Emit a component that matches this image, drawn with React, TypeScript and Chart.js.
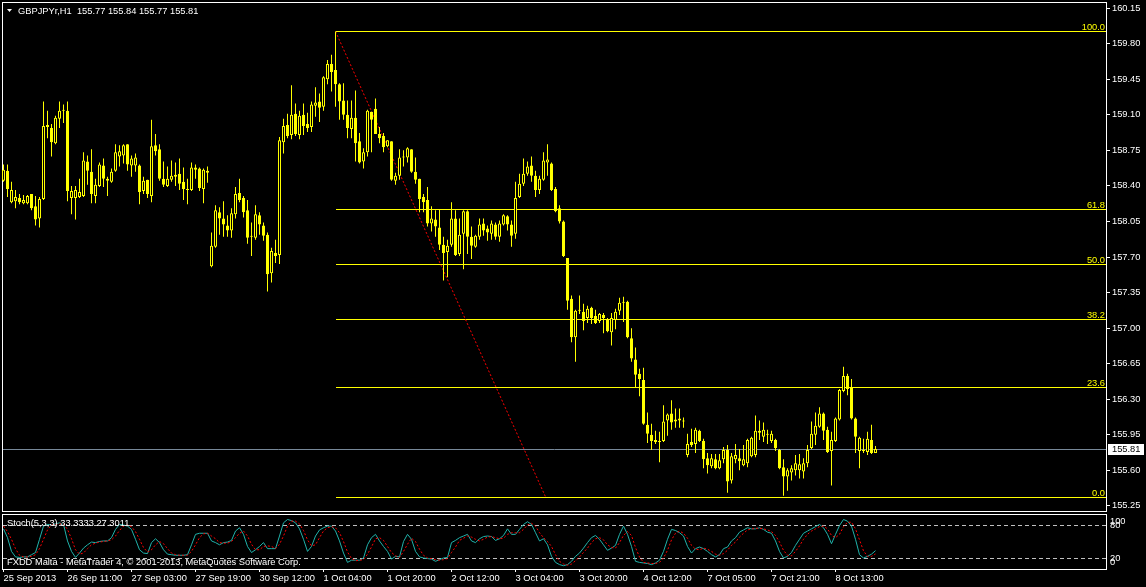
import React, { useEffect, useRef } from 'react';
import { Chart, registerables } from 'chart.js';

Chart.register(...registerables);

// ---------------- DATA ----------------
const SYMBOL = 'GBPJPYr,H1';

const OPEN = [
  158.45, 158.55, 158.24, 158.25, 158.28, 158.23, 158.23, 158.32, 158.20, 158.08,
  158.27, 158.98, 158.97, 158.82, 159.06, 159.14, 159.14, 158.28, 158.28, 158.29,
  158.30, 158.64, 158.54, 158.30, 158.40, 158.60, 158.47, 158.44, 158.55, 158.69,
  158.70, 158.81, 158.60, 158.60, 158.60, 158.35, 158.46, 158.30, 158.80, 158.76,
  158.47, 158.40, 158.46, 158.49, 158.52, 158.44, 158.37, 158.36, 158.58, 158.57,
  158.37, 158.55, 157.61, 157.80, 158.14, 158.08, 158.01, 157.96, 158.12, 158.33,
  158.28, 158.16, 157.91, 157.89, 158.11, 158.01, 157.92, 157.54, 157.74, 157.72,
  158.83, 159.00, 158.90, 159.11, 158.90, 159.10, 159.01, 158.98, 159.19, 159.23,
  159.18, 159.45, 159.60, 159.54, 159.40, 159.24, 159.10, 158.96, 159.07, 158.84,
  158.64, 158.73, 159.13, 159.16, 158.91, 158.89, 158.79, 158.84, 158.45, 158.50,
  158.68, 158.68, 158.76, 158.54, 158.47, 158.29, 158.26, 158.03, 158.07, 157.99,
  157.82, 157.75, 157.82, 158.08, 157.73, 157.93, 158.15, 157.90, 157.80, 157.90,
  158.03, 157.98, 157.93, 158.02, 157.90, 158.02, 158.10, 158.02, 157.93, 158.29,
  158.42, 158.52, 158.60, 158.50, 158.36, 158.46, 158.63, 158.62, 158.37, 158.18,
  158.05, 157.69, 157.29, 156.91, 157.18, 157.16, 157.10, 157.20, 157.12, 157.07,
  157.13, 157.09, 156.96, 157.08, 157.17, 157.25, 157.26, 156.90, 156.69, 156.55,
  156.49, 156.05, 155.95, 155.90, 155.89, 155.89, 156.09, 156.16, 156.08, 156.11,
  156.09, 155.75, 155.88, 155.86, 155.99, 155.89, 155.72, 155.64, 155.71, 155.62,
  155.71, 155.80, 155.50, 155.71, 155.72, 155.65, 155.67, 155.74, 155.75, 155.99,
  155.93, 155.95, 155.89, 155.90, 155.80, 155.63, 155.54, 155.58, 155.60, 155.60,
  155.59, 155.67, 155.82, 155.95, 156.03, 156.16, 156.00, 155.79, 155.89, 156.10,
  156.38, 156.53, 156.41, 156.11, 155.79, 155.79, 155.78, 155.90, 155.77,
];
const HIGH = [
  158.61, 158.61, 158.44, 158.36, 158.32, 158.31, 158.31, 158.32, 158.30, 158.29,
  159.23, 159.14, 159.01, 159.09, 159.23, 159.20, 159.23, 158.40, 158.40, 158.47,
  158.73, 158.70, 158.76, 158.47, 158.63, 158.67, 158.49, 158.57, 158.81, 158.80,
  158.81, 158.81, 158.70, 158.72, 158.61, 158.49, 158.46, 159.05, 158.91, 158.81,
  158.64, 158.59, 158.65, 158.63, 158.67, 158.58, 158.47, 158.63, 158.61, 158.58,
  158.57, 158.59, 157.94, 158.21, 158.19, 158.25, 158.11, 158.18, 158.39, 158.47,
  158.30, 158.26, 158.04, 158.21, 158.14, 158.04, 157.94, 157.79, 157.87, 158.88,
  159.06, 159.11, 159.39, 159.21, 159.14, 159.21, 159.12, 159.23, 159.37, 159.31,
  159.48, 159.64, 159.69, 159.92, 159.41, 159.41, 159.24, 159.24, 159.34, 158.92,
  158.77, 159.15, 159.13, 159.26, 158.98, 158.92, 158.85, 158.84, 158.53, 158.76,
  158.75, 158.78, 158.76, 158.68, 158.47, 158.32, 158.39, 158.20, 158.16, 158.17,
  157.90, 157.87, 158.24, 158.16, 158.08, 158.16, 158.16, 158.00, 157.92, 158.08,
  158.08, 158.01, 158.06, 158.04, 158.06, 158.12, 158.11, 158.06, 158.44, 158.52,
  158.67, 158.64, 158.69, 158.55, 158.50, 158.73, 158.81, 158.63, 158.39, 158.21,
  158.06, 157.69, 157.32, 157.18, 157.32, 157.24, 157.22, 157.21, 157.18, 157.15,
  157.15, 157.10, 157.15, 157.19, 157.30, 157.31, 157.27, 157.00, 156.81, 156.60,
  156.61, 156.17, 156.06, 155.99, 155.98, 156.24, 156.16, 156.29, 156.21, 156.21,
  156.12, 155.96, 156.01, 156.02, 156.00, 155.91, 155.77, 155.76, 155.76, 155.76,
  155.83, 155.85, 155.77, 155.86, 155.81, 155.85, 155.91, 155.93, 156.14, 156.09,
  156.07, 156.00, 155.99, 155.91, 155.81, 155.71, 155.62, 155.65, 155.75, 155.76,
  155.72, 155.85, 156.08, 156.17, 156.22, 156.17, 156.03, 155.98, 156.12, 156.40,
  156.62, 156.55, 156.50, 156.12, 155.93, 155.91, 155.98, 156.05, 155.84,
];
const LOW = [
  158.44, 158.29, 158.23, 158.18, 158.22, 158.22, 158.22, 158.16, 158.01, 157.99,
  158.26, 158.87, 158.69, 158.81, 158.97, 159.02, 158.25, 158.12, 158.07, 158.28,
  158.29, 158.41, 158.23, 158.23, 158.39, 158.39, 158.30, 158.43, 158.54, 158.59,
  158.62, 158.55, 158.49, 158.54, 158.22, 158.32, 158.28, 158.24, 158.70, 158.45,
  158.39, 158.39, 158.44, 158.40, 158.36, 158.26, 158.22, 158.35, 158.47, 158.35,
  158.23, 158.43, 157.60, 157.79, 157.92, 157.90, 157.90, 157.89, 158.08, 158.24,
  158.09, 157.83, 157.71, 157.87, 157.92, 157.86, 157.36, 157.45, 157.64, 157.63,
  158.72, 158.87, 158.86, 158.89, 158.86, 158.90, 158.93, 158.93, 159.08, 159.03,
  159.14, 159.40, 159.33, 159.18, 159.05, 159.05, 158.87, 158.87, 158.64, 158.62,
  158.57, 158.69, 158.73, 158.91, 158.82, 158.73, 158.78, 158.45, 158.41, 158.46,
  158.59, 158.63, 158.53, 158.42, 158.14, 158.14, 158.00, 157.95, 157.90, 157.77,
  157.47, 157.50, 157.80, 157.71, 157.71, 157.58, 157.73, 157.68, 157.79, 157.87,
  157.91, 157.86, 157.87, 157.87, 157.85, 158.01, 157.96, 157.80, 157.88, 158.28,
  158.40, 158.50, 158.44, 158.29, 158.32, 158.45, 158.50, 158.35, 158.14, 158.03,
  157.70, 157.18, 156.86, 156.67, 157.14, 156.98, 157.05, 157.04, 157.04, 157.05,
  156.95, 156.96, 156.83, 156.99, 157.13, 157.06, 156.90, 156.67, 156.41, 156.33,
  156.05, 155.87, 155.80, 155.86, 155.68, 155.88, 155.94, 156.00, 156.02, 156.02,
  156.02, 155.73, 155.83, 155.77, 155.88, 155.62, 155.57, 155.62, 155.61, 155.61,
  155.67, 155.38, 155.47, 155.67, 155.60, 155.64, 155.63, 155.73, 155.73, 155.90,
  155.88, 155.86, 155.87, 155.79, 155.61, 155.35, 155.40, 155.50, 155.55, 155.52,
  155.52, 155.63, 155.81, 155.85, 156.02, 155.90, 155.77, 155.45, 155.88, 156.09,
  156.37, 156.34, 156.10, 155.77, 155.62, 155.77, 155.75, 155.76, 155.77,
];
const CLOSE = [
  158.56, 158.37, 158.36, 158.29, 158.24, 158.26, 158.30, 158.18, 158.07, 158.27,
  158.99, 159.00, 158.83, 159.07, 159.14, 159.15, 158.35, 158.35, 158.36, 158.34,
  158.65, 158.55, 158.32, 158.41, 158.61, 158.47, 158.45, 158.54, 158.73, 158.74,
  158.80, 158.61, 158.67, 158.68, 158.34, 158.45, 158.32, 158.79, 158.74, 158.47,
  158.41, 158.47, 158.50, 158.51, 158.42, 158.37, 158.36, 158.58, 158.56, 158.38,
  158.56, 158.53, 157.81, 158.16, 158.08, 158.02, 157.96, 158.13, 158.32, 158.26,
  158.14, 157.89, 157.90, 158.12, 158.02, 157.91, 157.53, 157.76, 157.71, 158.85,
  158.99, 158.89, 159.10, 158.91, 159.09, 158.99, 158.97, 159.20, 159.22, 159.17,
  159.47, 159.60, 159.52, 159.40, 159.23, 159.10, 158.97, 159.07, 158.82, 158.63,
  158.73, 159.14, 159.05, 158.91, 158.87, 158.78, 158.85, 158.46, 158.50, 158.68,
  158.69, 158.77, 158.54, 158.46, 158.27, 158.24, 158.03, 158.08, 158.00, 157.82,
  157.74, 157.81, 158.08, 157.72, 157.92, 158.15, 157.90, 157.81, 157.91, 158.02,
  157.96, 157.94, 158.03, 157.90, 158.03, 158.11, 158.02, 157.91, 158.28, 158.42,
  158.52, 158.59, 158.50, 158.36, 158.47, 158.65, 158.66, 158.36, 158.15, 158.05,
  157.71, 157.27, 156.91, 157.17, 157.17, 157.07, 157.19, 157.10, 157.05, 157.14,
  157.10, 156.97, 157.10, 157.16, 157.25, 157.26, 156.91, 156.70, 156.54, 156.50,
  156.06, 155.96, 155.89, 155.88, 155.88, 156.08, 156.15, 156.07, 156.10, 156.09,
  156.08, 155.86, 155.85, 156.00, 155.89, 155.71, 155.65, 155.72, 155.62, 155.70,
  155.80, 155.49, 155.74, 155.75, 155.69, 155.71, 155.90, 155.92, 155.99, 155.97,
  156.00, 155.96, 155.96, 155.82, 155.62, 155.54, 155.60, 155.62, 155.67, 155.66,
  155.67, 155.80, 155.96, 156.04, 156.16, 155.99, 155.78, 155.90, 156.11, 156.39,
  156.53, 156.40, 156.11, 155.93, 155.92, 155.80, 155.91, 155.77, 155.81,
];

const STOCH_K = [
  73, 57, 32, 22, 21, 22, 22, 26, 30, 54,
  78, 81, 80, 82, 84, 81, 51, 32, 21, 29,
  38, 44, 49, 48, 50, 51, 51, 57, 72, 81,
  80, 78, 72, 54, 35, 29, 28, 48, 55, 48,
  35, 27, 26, 25, 25, 25, 26, 44, 63, 65,
  65, 65, 51, 48, 44, 48, 49, 52, 69, 75,
  63, 41, 30, 35, 41, 48, 37, 37, 37, 60,
  84, 90, 88, 84, 73, 54, 32, 41, 60, 71,
  75, 78, 78, 69, 51, 29, 12, 16, 16, 16,
  20, 44, 57, 63, 51, 41, 32, 18, 23, 22,
  50, 63, 54, 32, 22, 20, 19, 18, 14, 17,
  20, 21, 48, 52, 57, 60, 63, 51, 48, 55,
  59, 60, 59, 52, 55, 61, 73, 63, 63, 72,
  81, 86, 81, 66, 51, 55, 44, 23, 12, 8,
  6, 8, 14, 23, 29, 38, 48, 57, 61, 54,
  44, 34, 38, 43, 63, 78, 63, 41, 14, 12,
  11, 10, 8, 11, 16, 32, 54, 72, 70, 66,
  60, 41, 29, 37, 40, 37, 32, 26, 22, 26,
  37, 40, 51, 57, 67, 71, 75, 73, 73, 75,
  72, 67, 65, 51, 32, 20, 23, 30, 43, 54,
  65, 69, 73, 77, 81, 75, 63, 46, 63, 79,
  90, 87, 78, 54, 26, 20, 23, 27, 33.3333,
];
const STOCH_D = [
  78, 68, 54, 37, 25, 22, 22, 23, 26, 37,
  54, 71, 80, 81, 82, 82, 72, 55, 35, 27,
  29, 37, 44, 47, 49, 50, 51, 53, 60, 70,
  78, 80, 77, 68, 54, 39, 31, 35, 44, 50,
  46, 37, 29, 26, 25, 25, 25, 32, 44, 57,
  64, 65, 60, 55, 48, 47, 47, 50, 57, 65,
  69, 60, 45, 35, 35, 41, 42, 41, 37, 45,
  60, 78, 87, 87, 82, 70, 53, 42, 44, 57,
  69, 75, 77, 75, 66, 50, 31, 19, 15, 16,
  17, 27, 40, 55, 57, 52, 41, 30, 24, 21,
  32, 45, 56, 50, 36, 25, 20, 19, 17, 16,
  17, 19, 30, 40, 52, 56, 60, 58, 54, 51,
  54, 58, 59, 57, 55, 56, 63, 66, 66, 66,
  72, 80, 83, 78, 66, 57, 50, 41, 26, 14,
  9, 7, 9, 15, 22, 30, 38, 48, 55, 57,
  53, 44, 39, 38, 48, 61, 68, 61, 39, 22,
  12, 11, 10, 10, 12, 20, 34, 53, 65, 69,
  65, 56, 43, 36, 35, 38, 36, 32, 27, 25,
  28, 34, 43, 49, 58, 65, 71, 73, 74, 74,
  73, 71, 68, 61, 49, 34, 25, 24, 32, 42,
  54, 63, 69, 73, 77, 78, 73, 61, 57, 63,
  77, 85, 85, 73, 53, 33, 23, 23, 27.3011,
];

const PRICE_TICKS = [
  155.25, 155.6, 155.95, 156.3, 156.65, 157.0, 157.35, 157.7,
  158.05, 158.4, 158.75, 159.1, 159.45, 159.8, 160.15,
];
const TIME_IDX = [0, 16, 32, 48, 64, 80, 96, 112, 128, 144, 160, 176, 192, 208];
const TIME_TXT = [
  '25 Sep 2013', '26 Sep 11:00', '27 Sep 03:00', '27 Sep 19:00', '30 Sep 12:00',
  '1 Oct 04:00', '1 Oct 20:00', '2 Oct 12:00', '3 Oct 04:00', '3 Oct 20:00',
  '4 Oct 12:00', '7 Oct 05:00', '7 Oct 21:00', '8 Oct 13:00',
];

const FIB_LEVELS = [0, 23.6, 38.2, 50, 61.8, 100];
const FIB_HIGH = 159.92;
const FIB_LOW = 155.34;
const FIB_START = 83;
const TREND_FROM = [83, 159.92];
const TREND_TO = [135.5, 155.34];
const STOCH_LEVELS = [20, 80];
const STOCH_AXIS = [100, 80, 20, 0];

// ---------------- STYLE ----------------
const FONT = 'Liberation Sans';
const FONT_SIZE = 9.3;
const CANDLE = '#ffff00';
const X_MIN = -0.375;
const X_MAX = 275.625;
const Y_MIN = 155.2;
const Y_MAX = 160.21;

function noPad(s: any) {
  s.paddingTop = 0;
  s.paddingBottom = 0;
  s.paddingLeft = 0;
  s.paddingRight = 0;
}

export default function App() {
  const mainRef = useRef<HTMLCanvasElement>(null);
  const stochRef = useRef<HTMLCanvasElement>(null);

  useEffect(() => {
    document.body.style.margin = '0';
    document.body.style.background = '#000';
    const n = CLOSE.length;
    const idx = Array.from({ length: n }, (_, i) => i);
    const last = n - 1;

    const wickData = idx.map((i) => ({ x: i, y: [LOW[i], HIGH[i]] }));
    const bodyData = idx.map((i) => ({ x: i, y: [OPEN[i], CLOSE[i]] }));
    const bodyFill = idx.map((i) => (CLOSE[i] >= OPEN[i] ? '#000000' : CANDLE));

    const mainDecor = {
      id: 'mainDecor',
      beforeDraw(chart: any) {
        const { ctx, width, height } = chart;
        ctx.save();
        ctx.fillStyle = '#000';
        ctx.fillRect(0, 0, width, height);
        ctx.restore();
      },
      beforeDatasetsDraw(chart: any) {
        const { ctx, chartArea: a, scales } = chart;
        const x = scales.x;
        const y = scales.y;
        ctx.save();
        ctx.lineWidth = 1;
        // frame
        ctx.strokeStyle = '#ffffff';
        ctx.strokeRect(a.left + 0.5, a.top + 0.5, a.right - a.left, a.bottom - a.top);
        // fibonacci levels
        const fx = Math.round(x.getPixelForValue(FIB_START));
        FIB_LEVELS.forEach((l) => {
          const p = FIB_LOW + ((FIB_HIGH - FIB_LOW) * l) / 100;
          const py = Math.round(y.getPixelForValue(p)) + 0.5;
          ctx.strokeStyle = CANDLE;
          ctx.beginPath();
          ctx.moveTo(fx, py);
          ctx.lineTo(a.right, py);
          ctx.stroke();
        });
        // trend line
        ctx.strokeStyle = '#ff0000';
        ctx.setLineDash([2, 2]);
        ctx.beginPath();
        ctx.moveTo(x.getPixelForValue(TREND_FROM[0]), y.getPixelForValue(TREND_FROM[1]));
        ctx.lineTo(x.getPixelForValue(TREND_TO[0]), y.getPixelForValue(TREND_TO[1]));
        ctx.stroke();
        ctx.setLineDash([]);
        // bid line
        const by = Math.round(y.getPixelForValue(CLOSE[last])) + 0.5;
        ctx.strokeStyle = '#778899';
        ctx.beginPath();
        ctx.moveTo(a.left + 1, by);
        ctx.lineTo(a.right, by);
        ctx.stroke();
        ctx.restore();
      },
      afterDraw(chart: any) {
        const { ctx, chartArea: a, scales } = chart;
        const y = scales.y;
        ctx.save();
        ctx.font = `${FONT_SIZE}px "${FONT}"`;
        // fib labels
        ctx.fillStyle = CANDLE;
        ctx.textAlign = 'right';
        ctx.textBaseline = 'alphabetic';
        FIB_LEVELS.forEach((l) => {
          const p = FIB_LOW + ((FIB_HIGH - FIB_LOW) * l) / 100;
          const py = Math.round(y.getPixelForValue(p));
          ctx.fillText(l.toFixed(1), a.right - 1, py - 1);
        });
        // header
        ctx.fillStyle = '#ffffff';
        ctx.beginPath();
        ctx.moveTo(7, 9);
        ctx.lineTo(12, 9);
        ctx.lineTo(9.5, 12);
        ctx.closePath();
        ctx.fill();
        ctx.textAlign = 'left';
        ctx.textBaseline = 'middle';
        const hdr = `${SYMBOL}  ${OPEN[last].toFixed(2)} ${HIGH[last].toFixed(2)} ${LOW[last].toFixed(2)} ${CLOSE[last].toFixed(2)}`;
        ctx.fillText(hdr, 18, 11);
        // price box
        const by = Math.round(y.getPixelForValue(CLOSE[last]));
        ctx.fillStyle = '#ffffff';
        ctx.fillRect(a.right + 2, by - 5, 36, 11);
        ctx.fillStyle = '#000000';
        ctx.fillText(CLOSE[last].toFixed(2), a.right + 6, by + 0.5);
        ctx.restore();
      },
    };

    const mainChart = new Chart(mainRef.current as HTMLCanvasElement, {
      type: 'bar',
      data: {
        datasets: [
          {
            label: 'wick',
            data: wickData as any,
            backgroundColor: CANDLE,
            borderWidth: 0,
            barThickness: 1,
            grouped: false,
            inflateAmount: 0,
            order: 2,
          } as any,
          {
            label: 'body',
            data: bodyData as any,
            backgroundColor: bodyFill,
            borderColor: CANDLE,
            borderWidth: 1,
            borderSkipped: false,
            barThickness: 3,
            minBarLength: 1,
            grouped: false,
            inflateAmount: 0,
            order: 1,
          } as any,
        ],
      },
      options: {
        responsive: false,
        animation: false,
        devicePixelRatio: 1,
        events: [],
        layout: { padding: { left: 2, top: 2, right: 0, bottom: 2 } },
        plugins: { legend: { display: false }, tooltip: { enabled: false } },
        scales: {
          x: { type: 'linear', display: false, min: X_MIN, max: X_MAX, offset: false },
          y: {
            position: 'right',
            min: Y_MIN,
            max: Y_MAX,
            afterFit: (s: any) => {
              s.width = 40;
              noPad(s);
            },
            afterBuildTicks: (s: any) => {
              s.ticks = PRICE_TICKS.map((v) => ({ value: v }));
            },
            border: { display: false },
            grid: { drawOnChartArea: false, drawTicks: true, tickLength: 4, color: '#ffffff' },
            ticks: {
              color: '#ffffff',
              padding: 2,
              font: { family: FONT, size: FONT_SIZE },
              callback: (v: any) => Number(v).toFixed(2),
            },
          },
        },
      } as any,
      plugins: [mainDecor],
    });

    const stochDecor = {
      id: 'stochDecor',
      beforeDraw(chart: any) {
        const { ctx, width, height } = chart;
        ctx.save();
        ctx.fillStyle = '#000';
        ctx.fillRect(0, 0, width, height);
        ctx.restore();
      },
      beforeDatasetsDraw(chart: any) {
        const { ctx, chartArea: a, scales } = chart;
        const y = scales.y;
        ctx.save();
        ctx.lineWidth = 1;
        ctx.strokeStyle = '#ffffff';
        ctx.strokeRect(a.left + 0.5, a.top + 0.5, a.right - a.left, a.bottom - a.top);
        ctx.strokeStyle = '#c0c0c0';
        ctx.setLineDash([4, 3]);
        STOCH_LEVELS.forEach((v) => {
          const py = Math.round(y.getPixelForValue(v)) + 0.5;
          ctx.beginPath();
          ctx.moveTo(a.left + 1, py);
          ctx.lineTo(a.right, py);
          ctx.stroke();
        });
        ctx.restore();
      },
      afterDraw(chart: any) {
        const { ctx, chartArea: a, scales } = chart;
        const y = scales.y;
        const n2 = STOCH_K.length - 1;
        ctx.save();
        ctx.font = `${FONT_SIZE}px "${FONT}"`;
        ctx.fillStyle = '#ffffff';
        ctx.textAlign = 'left';
        ctx.textBaseline = 'middle';
        ctx.fillText(`Stoch(5,3,3) ${STOCH_K[n2].toFixed(4)} ${STOCH_D[n2].toFixed(4)}`, 7, 10.5);
        ctx.fillText('FXDD Malta - MetaTrader 4, © 2001-2013, MetaQuotes Software Corp.', 7, 49.5);
        STOCH_AXIS.forEach((v) => {
          const py = Math.min(Math.max(y.getPixelForValue(v), a.top + 7), a.bottom - 6.5);
          ctx.fillText(String(v), a.right + 4, py);
        });
        ctx.restore();
      },
    };

    const stochChart = new Chart(stochRef.current as HTMLCanvasElement, {
      type: 'line',
      data: {
        datasets: [
          {
            label: 'K',
            data: idx.map((i) => ({ x: i, y: STOCH_K[i] })),
            borderColor: '#20b2aa',
            borderWidth: 1,
            pointRadius: 0,
            tension: 0,
            order: 1,
          },
          {
            label: 'D',
            data: idx.map((i) => ({ x: i, y: STOCH_D[i] })),
            borderColor: '#ff0000',
            borderWidth: 1,
            borderDash: [2, 2],
            pointRadius: 0,
            tension: 0,
            order: 0,
          },
        ],
      },
      options: {
        responsive: false,
        animation: false,
        devicePixelRatio: 1,
        events: [],
        layout: { padding: { left: 2, top: 1, right: 0, bottom: 0 } },
        plugins: { legend: { display: false }, tooltip: { enabled: false } },
        scales: {
          x: {
            type: 'linear',
            min: X_MIN,
            max: X_MAX,
            position: 'bottom',
            offset: false,
            afterFit: (s: any) => {
              s.height = 18;
              noPad(s);
            },
            afterBuildTicks: (s: any) => {
              s.ticks = TIME_IDX.map((v) => ({ value: v }));
            },
            border: { display: false },
            grid: { drawOnChartArea: false, drawTicks: true, tickLength: 3, color: '#ffffff' },
            ticks: {
              color: '#ffffff',
              autoSkip: false,
              maxRotation: 0,
              minRotation: 0,
              align: 'start',
              padding: 1,
              font: { family: FONT, size: FONT_SIZE },
              callback: (_v: any, i: number) => TIME_TXT[i],
            },
          },
          y: {
            position: 'right',
            min: 0,
            max: 100,
            afterFit: (s: any) => {
              s.width = 40;
              noPad(s);
            },
            border: { display: false },
            grid: { display: false },
            ticks: { display: false },
          },
        },
      } as any,
      plugins: [stochDecor],
    });

    return () => {
      mainChart.destroy();
      stochChart.destroy();
    };
  }, []);

  return (
    <div style={{ position: 'relative', width: 1146, height: 587, background: '#000', overflow: 'hidden' }}>
      <canvas ref={mainRef} width={1146} height={513} style={{ position: 'absolute', left: 0, top: 0 }} />
      <canvas ref={stochRef} width={1146} height={74} style={{ position: 'absolute', left: 0, top: 513 }} />
    </div>
  );
}
